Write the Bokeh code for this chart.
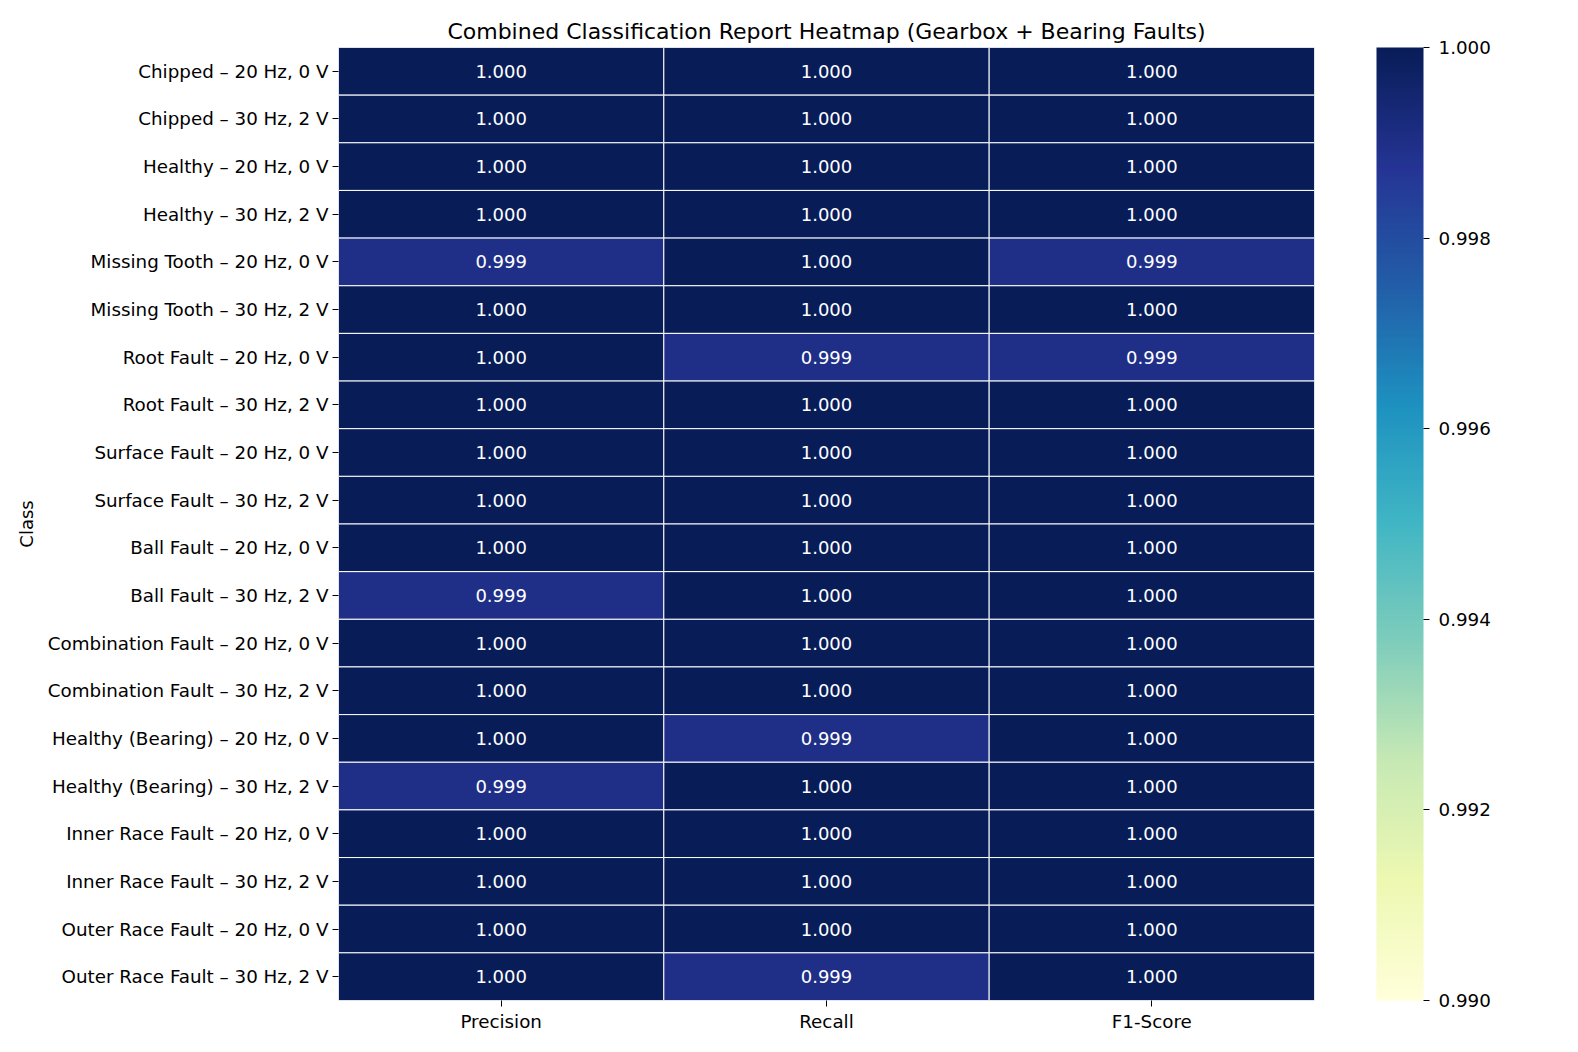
import numpy as np
from bokeh.plotting import figure
from bokeh.models import (ColumnDataSource, LinearColorMapper, ColorBar, FixedTicker,
                          NumeralTickFormatter, FactorRange)
from bokeh.core.properties import value
from bokeh.embed import file_html
from bokeh.resources import INLINE

classes = [
    "Chipped – 20 Hz, 0 V", "Chipped – 30 Hz, 2 V",
    "Healthy – 20 Hz, 0 V", "Healthy – 30 Hz, 2 V",
    "Missing Tooth – 20 Hz, 0 V", "Missing Tooth – 30 Hz, 2 V",
    "Root Fault – 20 Hz, 0 V", "Root Fault – 30 Hz, 2 V",
    "Surface Fault – 20 Hz, 0 V", "Surface Fault – 30 Hz, 2 V",
    "Ball Fault – 20 Hz, 0 V", "Ball Fault – 30 Hz, 2 V",
    "Combination Fault – 20 Hz, 0 V", "Combination Fault – 30 Hz, 2 V",
    "Healthy (Bearing) – 20 Hz, 0 V", "Healthy (Bearing) – 30 Hz, 2 V",
    "Inner Race Fault – 20 Hz, 0 V", "Inner Race Fault – 30 Hz, 2 V",
    "Outer Race Fault – 20 Hz, 0 V", "Outer Race Fault – 30 Hz, 2 V",
]
metrics = ["Precision", "Recall", "F1-Score"]
precision = [1.000, 1.000, 1.000, 1.000, 0.999, 1.000, 1.000, 1.000, 1.000, 1.000,
             1.000, 0.999, 1.000, 1.000, 1.000, 0.999, 1.000, 1.000, 1.000, 1.000]
recall = [1.000, 1.000, 1.000, 1.000, 1.000, 1.000, 0.999, 1.000, 1.000, 1.000,
          1.000, 1.000, 1.000, 1.000, 0.999, 1.000, 1.000, 1.000, 1.000, 0.999]
f1_score = [1.000, 1.000, 1.000, 1.000, 0.999, 1.000, 0.999, 1.000, 1.000, 1.000,
            1.000, 1.000, 1.000, 1.000, 1.000, 1.000, 1.000, 1.000, 1.000, 1.000]
cbar_ticks = [0.990, 0.992, 0.994, 0.996, 0.998, 1.000]
vmin, vmax = 0.990, 1.000

# YlGnBu colormap (matplotlib), interpolated to 256 steps
nodes = ["#ffffd9", "#edf8b1", "#c7e9b4", "#7fcdbb", "#41b6c4",
         "#1d91c0", "#225ea8", "#253494", "#081d58"]
rgb = np.array([[int(c[i:i + 2], 16) for i in (1, 3, 5)] for c in nodes], dtype=float)
pos = np.linspace(0, 1, len(nodes))
t = np.linspace(0, 1, 256)
pal = []
for tt in t:
    r, g, b = (np.interp(tt, pos, rgb[:, k]) for k in range(3))
    pal.append("#%02x%02x%02x" % (int(round(r)), int(round(g)), int(round(b))))

cols = {"Precision": precision, "Recall": recall, "F1-Score": f1_score}
xs, ys, vals, labels = [], [], [], []
for m in metrics:
    for c, v in zip(classes, cols[m]):
        xs.append(m)
        ys.append(c)
        vals.append(v)
        labels.append(f"{v:.3f}")
src = ColumnDataSource(dict(x=xs, y=ys, val=vals, label=labels))

mapper = LinearColorMapper(palette=pal, low=vmin, high=vmax)

FONT = "DejaVu Sans"
p = figure(width=1560, height=1036, output_backend="svg", toolbar_location=None,
           x_range=FactorRange(*metrics), y_range=FactorRange(*reversed(classes)),
           min_border_left=338, min_border_top=47, min_border_bottom=36, min_border_right=246,
           title="Combined Classification Report Heatmap (Gearbox + Bearing Faults)")
p.title.align = "center"
p.title.text_font = FONT
p.title.text_font_size = "22px"
p.title.text_font_style = "normal"
p.title.text_color = "black"
p.title.standoff = 8

p.rect(x="x", y="y", width=1, height=1, source=src,
       fill_color={"field": "val", "transform": mapper},
       line_color="white", line_width=1)
p.text(x="x", y="y", text="label", source=src, text_color="white",
       text_font=value(FONT), text_font_size="18px",
       text_align="center", text_baseline="middle")

p.outline_line_color = None
p.grid.visible = False
for ax in (p.xaxis[0], p.yaxis[0]):
    ax.axis_line_color = None
    ax.major_tick_out = 6
    ax.major_tick_in = 0
    ax.major_tick_line_color = "black"
    ax.major_tick_line_width = 1
    ax.minor_tick_line_color = None
    ax.major_label_text_font = FONT
    ax.major_label_text_font_size = "18.3px"
    ax.major_label_text_color = "black"
    ax.major_label_standoff = 4
p.yaxis.axis_label = "Class"
p.yaxis.axis_label_text_font = FONT
p.yaxis.axis_label_text_font_size = "18px"
p.yaxis.axis_label_text_font_style = "normal"
p.yaxis.axis_label_text_color = "black"
p.yaxis.axis_label_standoff = 8

cb = ColorBar(color_mapper=mapper, ticker=FixedTicker(ticks=cbar_ticks),
              formatter=NumeralTickFormatter(format="0.000"),
              width=47, height=953, location=(62, 0), padding=0, margin=0,
              bar_line_color=None, border_line_color=None,
              background_fill_color=None,
              major_tick_out=6, major_tick_in=0, major_tick_line_color="black",
              major_tick_line_width=1, minor_tick_line_color=None,
              major_label_text_font=FONT, major_label_text_font_size="18.3px",
              major_label_text_color="black",
              label_standoff=9)
p.add_layout(cb, "right")

open("out.html", "w").write(file_html(p, INLINE))
